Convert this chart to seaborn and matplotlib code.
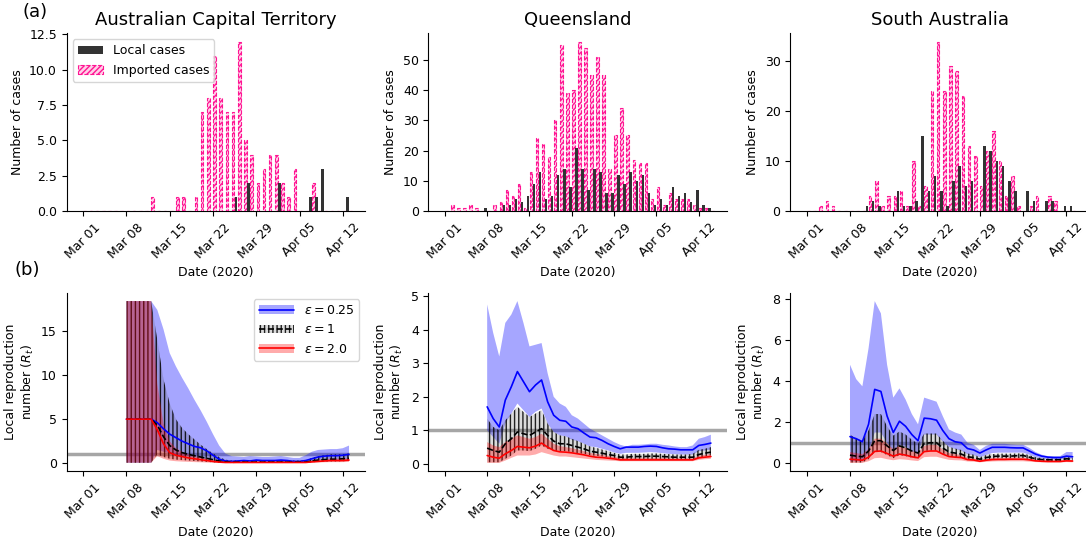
import numpy as np
import pandas as pd
import matplotlib
matplotlib.use("Agg")
import matplotlib.pyplot as plt
import seaborn as sns
from matplotlib.patches import Patch
from matplotlib.lines import Line2D

# ---------------- daily case counts (from 1 March 2020) ----------------
regions = ["Australian Capital Territory", "Queensland", "South Australia"]

act_local = [0, 0, 0, 0, 0, 0, 0, 0, 0, 0,
             0, 0, 0, 0, 0, 0, 0, 0, 0, 0,
             0, 0, 0, 0, 0, 1, 0, 2, 0, 0,
             0, 0, 2, 0, 0, 0, 0, 1, 1, 3,
             0, 0, 0, 1]
act_imported = [0, 0, 0, 0, 0, 0, 0, 0, 0, 0,
                0, 1, 0, 0, 0, 1, 1, 0, 1, 7,
                8, 11, 8, 7, 7, 12, 5, 4, 2, 3,
                4, 4, 2, 1, 3, 0, 0, 2, 0, 0,
                0, 0, 0, 0]

qld_local = [0, 0, 0, 0, 0, 0, 0, 1, 0, 0,
             2, 2, 4, 3, 5, 9, 13, 4, 5, 12,
             14, 8, 21, 14, 7, 14, 13, 6, 6, 12,
             9, 13, 10, 12, 6, 2, 4, 2, 8, 5,
             6, 3, 7, 2, 1]
qld_imported = [0, 2, 1, 1, 2, 1, 0, 0, 2, 3,
                7, 5, 9, 1, 13, 24, 22, 18, 30, 55,
                39, 40, 56, 54, 45, 51, 45, 14, 25, 34,
                25, 17, 16, 16, 4, 8, 2, 6, 4, 4,
                4, 2, 1, 1, 0]

sa_local = [0, 0, 0, 0, 0, 0, 0, 0, 0, 0,
            1, 2, 1, 0, 0, 4, 1, 1, 2, 15,
            4, 7, 4, 1, 6, 9, 5, 6, 0, 13,
            12, 10, 9, 6, 4, 0, 4, 2, 0, 2,
            2, 0, 1, 1]
sa_imported = [0, 0, 1, 2, 1, 0, 0, 0, 0, 0,
               3, 6, 1, 3, 3, 4, 1, 10, 1, 5,
               24, 34, 24, 29, 28, 23, 13, 11, 5, 12,
               16, 10, 3, 7, 1, 0, 1, 3, 0, 3,
               2, 0, 0, 0]

# ---------------- local reproduction number R_t (from 8 March 2020) ----------------
# ACT
act_r025_med = [5, 5, 5, 5, 5, 4.6, 3.9, 3.3, 2.9, 2.5, 2.2, 1.9, 1.75, 1.4, 0.9,
                0.45, 0.25, 0.2, 0.25, 0.3, 0.25, 0.35, 0.3, 0.3, 0.3, 0.35, 0.3,
                0.2, 0.2, 0.3, 0.5, 0.7, 0.8, 0.85, 0.85, 0.9, 1.0]
act_r025_lo = [0.05, 0.05, 0.05, 0.05, 0.05, 1.5, 1.3, 1.1, 0.95, 0.85, 0.75, 0.65,
               0.55, 0.45, 0.3, 0.15, 0.08, 0.06, 0.06, 0.06, 0.06, 0.06, 0.06, 0.06,
               0.06, 0.06, 0.06, 0.06, 0.06, 0.1, 0.2, 0.3, 0.35, 0.38, 0.4, 0.42, 0.45]
act_r025_hi = [18.4, 18.4, 18.4, 18.4, 18.4, 17.4, 15.2, 12.5, 11.0, 9.7, 8.5, 7.2,
               6.0, 4.7, 3.3, 2.0, 1.1, 0.8, 0.75, 0.7, 0.8, 0.75, 0.7, 0.7, 0.75,
               0.8, 0.7, 0.6, 0.6, 0.9, 1.3, 1.5, 1.55, 1.6, 1.6, 1.7, 2.0]
act_r1_med = [5, 5, 5, 5, 5, 4.3, 3.0, 2.0, 1.5, 1.2, 1.0, 0.85, 0.7, 0.55, 0.4,
              0.25, 0.15, 0.1, 0.12, 0.12, 0.12, 0.12, 0.12, 0.12, 0.12, 0.12, 0.12,
              0.12, 0.12, 0.12, 0.25, 0.35, 0.4, 0.45, 0.45, 0.5, 0.55]
act_r1_lo = [0.05, 0.05, 0.05, 0.05, 0.05, 1.0, 0.7, 0.5, 0.4, 0.35, 0.3, 0.25, 0.2,
             0.15, 0.1, 0.06, 0.04, 0.04, 0.04, 0.04, 0.04, 0.04, 0.04, 0.04, 0.04,
             0.04, 0.04, 0.04, 0.04, 0.04, 0.1, 0.15, 0.18, 0.2, 0.2, 0.22, 0.25]
act_r1_hi = [18.4, 18.4, 18.4, 18.4, 18.4, 14.0, 9.5, 6.8, 5.0, 4.0, 3.3, 2.7, 2.1,
             1.6, 1.1, 0.7, 0.4, 0.3, 0.3, 0.3, 0.3, 0.3, 0.3, 0.3, 0.3, 0.3, 0.3,
             0.3, 0.3, 0.3, 0.6, 0.8, 0.9, 1.0, 1.0, 1.0, 1.1]
act_r2_med = [5, 5, 5, 5, 5, 3.8, 2.2, 1.2, 0.9, 0.75, 0.6, 0.5, 0.4, 0.3, 0.2,
              0.12, 0.08, 0.08, 0.08, 0.08, 0.08, 0.08, 0.08, 0.08, 0.08, 0.08, 0.08,
              0.08, 0.08, 0.08, 0.15, 0.2, 0.25, 0.3, 0.3, 0.3, 0.35]
act_r2_lo = [0.05, 0.05, 0.05, 0.05, 0.05, 0.8, 0.5, 0.3, 0.22, 0.18, 0.15, 0.12, 0.1,
             0.07, 0.05, 0.03, 0.03, 0.03, 0.03, 0.03, 0.03, 0.03, 0.03, 0.03, 0.03,
             0.03, 0.03, 0.03, 0.03, 0.03, 0.06, 0.08, 0.1, 0.12, 0.12, 0.12, 0.14]
act_r2_hi = [18.4, 18.4, 18.4, 18.4, 18.4, 9.0, 4.5, 2.5, 1.7, 1.3, 1.0, 0.8, 0.65,
             0.5, 0.35, 0.22, 0.15, 0.15, 0.15, 0.15, 0.15, 0.15, 0.15, 0.15, 0.15,
             0.15, 0.15, 0.15, 0.15, 0.15, 0.3, 0.4, 0.45, 0.5, 0.5, 0.5, 0.55]

# QLD
qld_r025_med = [1.7, 1.35, 1.1, 1.9, 2.3, 2.75, 2.45, 2.15, 2.35, 2.5, 1.85, 1.45, 1.3,
                1.27, 1.1, 1.05, 0.92, 0.8, 0.78, 0.7, 0.6, 0.52, 0.45, 0.5, 0.5, 0.5,
                0.52, 0.53, 0.52, 0.48, 0.45, 0.44, 0.42, 0.42, 0.42, 0.55, 0.58, 0.62]
qld_r025_lo = [1.0, 0.8, 0.6, 1.2, 1.5, 1.8, 1.6, 1.4, 1.55, 1.65, 1.2, 0.95, 0.85,
               0.82, 0.72, 0.68, 0.6, 0.52, 0.5, 0.45, 0.4, 0.34, 0.3, 0.33, 0.33, 0.33,
               0.34, 0.35, 0.34, 0.32, 0.3, 0.29, 0.28, 0.28, 0.28, 0.38, 0.4, 0.43]
qld_r025_hi = [4.75, 3.9, 3.2, 4.2, 4.45, 4.85, 4.2, 3.5, 3.55, 3.6, 2.7, 2.0, 1.8, 1.7,
               1.45, 1.35, 1.2, 1.05, 0.95, 0.85, 0.75, 0.65, 0.57, 0.52, 0.57, 0.57,
               0.58, 0.6, 0.6, 0.57, 0.55, 0.52, 0.5, 0.5, 0.55, 0.75, 0.8, 0.87]
qld_r1_med = [0.47, 0.4, 0.35, 0.6, 0.75, 0.95, 0.9, 0.85, 0.95, 1.05, 0.85, 0.68, 0.6,
              0.6, 0.55, 0.5, 0.45, 0.38, 0.35, 0.32, 0.28, 0.25, 0.2, 0.2, 0.22, 0.22,
              0.22, 0.23, 0.23, 0.22, 0.21, 0.2, 0.2, 0.2, 0.2, 0.28, 0.32, 0.35]
qld_r1_lo = [0.05, 0.05, 0.05, 0.15, 0.25, 0.4, 0.4, 0.38, 0.45, 0.55, 0.45, 0.4, 0.38,
             0.38, 0.35, 0.32, 0.3, 0.26, 0.24, 0.22, 0.19, 0.17, 0.14, 0.14, 0.15, 0.15,
             0.15, 0.15, 0.15, 0.15, 0.14, 0.14, 0.13, 0.13, 0.13, 0.18, 0.22, 0.25]
qld_r1_hi = [1.35, 1.1, 1.0, 1.3, 1.5, 1.7, 1.55, 1.4, 1.5, 1.6, 1.2, 0.95, 0.85, 0.82,
             0.75, 0.68, 0.6, 0.52, 0.48, 0.43, 0.38, 0.33, 0.28, 0.28, 0.3, 0.3, 0.3,
             0.31, 0.31, 0.3, 0.29, 0.28, 0.28, 0.28, 0.3, 0.42, 0.45, 0.5]
qld_r2_med = [0.25, 0.2, 0.17, 0.3, 0.4, 0.52, 0.5, 0.48, 0.53, 0.62, 0.5, 0.4, 0.36,
              0.35, 0.33, 0.3, 0.27, 0.23, 0.2, 0.19, 0.17, 0.15, 0.12, 0.12, 0.12, 0.12,
              0.12, 0.12, 0.12, 0.12, 0.12, 0.12, 0.12, 0.12, 0.12, 0.18, 0.2, 0.22]
qld_r2_lo = [0.03, 0.03, 0.03, 0.1, 0.18, 0.25, 0.25, 0.25, 0.28, 0.35, 0.3, 0.25, 0.22,
             0.22, 0.2, 0.18, 0.16, 0.14, 0.12, 0.11, 0.1, 0.09, 0.08, 0.08, 0.08, 0.08,
             0.08, 0.08, 0.08, 0.08, 0.08, 0.08, 0.08, 0.08, 0.08, 0.12, 0.14, 0.15]
qld_r2_hi = [0.65, 0.55, 0.5, 0.65, 0.75, 0.85, 0.8, 0.75, 0.8, 0.9, 0.75, 0.6, 0.53,
             0.5, 0.47, 0.43, 0.38, 0.33, 0.3, 0.27, 0.24, 0.21, 0.18, 0.18, 0.18, 0.18,
             0.18, 0.18, 0.18, 0.18, 0.17, 0.17, 0.17, 0.17, 0.17, 0.25, 0.27, 0.3]

# SA
sa_r025_med = [1.3, 1.2, 1.05, 1.9, 3.6, 3.5, 2.3, 1.5, 2.05, 1.8, 1.4, 1.1, 2.2, 2.17,
               2.1, 1.6, 1.2, 1.05, 1.0, 0.72, 0.65, 0.5, 0.65, 0.78, 0.78, 0.78, 0.76,
               0.75, 0.75, 0.6, 0.45, 0.35, 0.3, 0.28, 0.28, 0.35, 0.32]
sa_r025_lo = [0.1, 0.1, 0.1, 0.5, 1.5, 1.5, 1.0, 0.6, 0.9, 0.8, 0.6, 0.45, 1.4, 1.4,
              1.4, 1.05, 0.8, 0.7, 0.62, 0.45, 0.4, 0.3, 0.4, 0.5, 0.52, 0.52, 0.52,
              0.52, 0.52, 0.42, 0.3, 0.24, 0.2, 0.2, 0.2, 0.25, 0.22]
sa_r025_hi = [4.8, 4.1, 3.75, 5.6, 7.9, 7.3, 4.8, 3.2, 3.65, 3.1, 2.4, 1.9, 3.2, 3.1,
              3.0, 2.3, 1.65, 1.5, 1.4, 1.0, 0.9, 0.65, 0.85, 0.95, 0.95, 0.95, 0.92,
              0.9, 0.9, 0.75, 0.55, 0.42, 0.35, 0.35, 0.35, 0.55, 0.55]
sa_r1_med = [0.4, 0.35, 0.32, 0.6, 1.1, 1.1, 0.85, 0.62, 0.85, 0.75, 0.6, 0.5, 0.97, 1.0,
             1.0, 0.75, 0.55, 0.5, 0.45, 0.32, 0.28, 0.2, 0.28, 0.33, 0.35, 0.35, 0.35,
             0.37, 0.38, 0.3, 0.22, 0.18, 0.17, 0.17, 0.17, 0.22, 0.2]
sa_r1_lo = [0.04, 0.04, 0.04, 0.2, 0.55, 0.55, 0.4, 0.25, 0.4, 0.35, 0.28, 0.22, 0.6,
            0.62, 0.62, 0.48, 0.35, 0.3, 0.27, 0.2, 0.17, 0.12, 0.17, 0.22, 0.24, 0.24,
            0.24, 0.25, 0.26, 0.2, 0.15, 0.12, 0.11, 0.11, 0.11, 0.15, 0.13]
sa_r1_hi = [1.4, 1.2, 1.1, 1.6, 2.4, 2.4, 1.8, 1.35, 1.55, 1.4, 1.15, 0.95, 1.45, 1.45,
            1.45, 1.1, 0.8, 0.72, 0.65, 0.48, 0.42, 0.3, 0.4, 0.45, 0.47, 0.47, 0.47,
            0.48, 0.48, 0.4, 0.3, 0.25, 0.23, 0.23, 0.23, 0.3, 0.28]
sa_r2_med = [0.2, 0.18, 0.15, 0.3, 0.58, 0.6, 0.48, 0.35, 0.45, 0.4, 0.32, 0.27, 0.57,
             0.6, 0.6, 0.45, 0.33, 0.3, 0.28, 0.18, 0.16, 0.1, 0.15, 0.18, 0.19, 0.19,
             0.2, 0.2, 0.2, 0.17, 0.12, 0.1, 0.09, 0.09, 0.09, 0.12, 0.11]
sa_r2_lo = [0.02, 0.02, 0.02, 0.1, 0.25, 0.27, 0.2, 0.15, 0.2, 0.18, 0.14, 0.11, 0.3,
            0.32, 0.32, 0.24, 0.17, 0.15, 0.14, 0.09, 0.08, 0.05, 0.07, 0.09, 0.1, 0.1,
            0.1, 0.1, 0.1, 0.08, 0.06, 0.05, 0.04, 0.04, 0.04, 0.06, 0.05]
sa_r2_hi = [0.55, 0.5, 0.45, 0.7, 1.2, 1.2, 0.95, 0.7, 0.85, 0.75, 0.6, 0.5, 0.85, 0.9,
            0.9, 0.68, 0.5, 0.45, 0.4, 0.28, 0.24, 0.16, 0.22, 0.26, 0.27, 0.27, 0.28,
            0.28, 0.28, 0.24, 0.18, 0.15, 0.13, 0.13, 0.13, 0.17, 0.16]

eps_labels = [r"$\epsilon = 0.25$", r"$\epsilon = 1$", r"$\epsilon = 2.0$"]
tick_labels = ["Mar 01", "Mar 08", "Mar 15", "Mar 22", "Mar 29", "Apr 05", "Apr 12"]
act_case_ticks = [0.0, 2.5, 5.0, 7.5, 10.0, 12.5]

cases = [(act_local, act_imported), (qld_local, qld_imported), (sa_local, sa_imported)]
rt = [
    [(act_r025_med, act_r025_lo, act_r025_hi), (act_r1_med, act_r1_lo, act_r1_hi),
     (act_r2_med, act_r2_lo, act_r2_hi)],
    [(qld_r025_med, qld_r025_lo, qld_r025_hi), (qld_r1_med, qld_r1_lo, qld_r1_hi),
     (qld_r2_med, qld_r2_lo, qld_r2_hi)],
    [(sa_r025_med, sa_r025_lo, sa_r025_hi), (sa_r1_med, sa_r1_lo, sa_r1_hi),
     (sa_r2_med, sa_r2_lo, sa_r2_hi)],
]

# ---------------- style ----------------
sns.set_style("ticks", {"axes.edgecolor": "black", "text.color": "black",
                        "axes.labelcolor": "black", "xtick.color": "black",
                        "ytick.color": "black"})
plt.rcParams["font.family"] = ["DejaVu Sans"]
plt.rcParams.update({"font.size": 9, "axes.titlesize": 13, "axes.labelsize": 9,
                     "xtick.labelsize": 9, "ytick.labelsize": 9, "legend.fontsize": 9,
                     "hatch.linewidth": 1.0})

LOCAL_C = "#333333"
IMPORT_C = "#ff1493"
IMPORT_FACE = "#ffd0e8"
BAND_STYLE = [
    dict(color="blue", line="-", fill=dict(facecolor=(0, 0, 1, 0.35), edgecolor="none")),
    dict(color="black", line="--", fill=dict(facecolor=(0.3, 0.3, 0.3, 0.2),
                                             edgecolor=(0, 0, 0, 0.85), hatch="||||")),
    dict(color="red", line="-", fill=dict(facecolor=(1, 0, 0, 0.33), edgecolor="none")),
]

fig, axes = plt.subplots(2, 3, figsize=(10.86, 5.42), dpi=100, sharex="col")
fig.subplots_adjust(left=0.0614, right=1.0028, top=0.939, bottom=0.131,
                    wspace=0.211, hspace=0.46)

start = pd.Timestamp("2020-03-01")
rt_start = pd.Timestamp("2020-03-08")
tick_dates = pd.to_datetime(["2020-" + d for d in
                             ["03-01", "03-08", "03-15", "03-22", "03-29", "04-05", "04-12"]])
bar_w = 0.42

for col in range(3):
    ax = axes[0, col]
    local, imported = cases[col]
    days = pd.date_range(start, periods=len(local), freq="D")
    ax.bar(days + pd.Timedelta(hours=6), imported, width=bar_w, facecolor=IMPORT_FACE,
           edgecolor=IMPORT_C, hatch="//////", linestyle="--", linewidth=0.8,
           label="Imported cases", zorder=3)
    ax.bar(days - pd.Timedelta(hours=6), local, width=bar_w, color=LOCAL_C,
           linewidth=0, label="Local cases", zorder=3.1)
    ax.set_title(regions[col], fontsize=13)
    ax.set_ylabel("Number of cases")
    ax.set_xlabel("Date (2020)")
    if col == 0:
        ax.set_yticks(act_case_ticks)
        h, l = ax.get_legend_handles_labels()
        ax.legend(h[::-1], l[::-1], loc="upper left", handlelength=2.0)

    ax = axes[1, col]
    n = len(rt[col][0][0])
    rdays = pd.date_range(rt_start, periods=n, freq="D")
    handles = []
    for k, (med, lo, hi) in enumerate(rt[col]):
        st = BAND_STYLE[k]
        ax.fill_between(rdays, lo, hi, linewidth=0, zorder=1 + k, **st["fill"])
        sns.lineplot(x=rdays, y=med, ax=ax, color=st["color"], linestyle=st["line"],
                     linewidth=1.2, zorder=5 + k)
        handles.append((Patch(linewidth=0, **st["fill"]),
                        Line2D([], [], color=st["color"], linestyle=st["line"],
                               linewidth=1.2)))
    ax.axhline(1.0, color="grey", alpha=0.7, linewidth=2.5, zorder=0)
    ax.set_ylabel("Local reproduction\nnumber ($R_t$)")
    ax.set_xlabel("Date (2020)")
    if col == 0:
        ax.legend(handles, eps_labels, loc="upper right", handlelength=2.8)

for ax in axes.flat:
    sns.despine(ax=ax)
    ax.set_xticks(tick_dates)
    ax.set_xticklabels(tick_labels, rotation=45)
    ax.tick_params(axis="x", labelbottom=True)

fig.text(22 / 1086, 1 - 12 / 542, "(a)", fontsize=13, va="center", ha="left")
fig.text(15 / 1086, 1 - 270 / 542, "(b)", fontsize=13, va="center", ha="left")

fig.savefig("out.png", dpi=100)
